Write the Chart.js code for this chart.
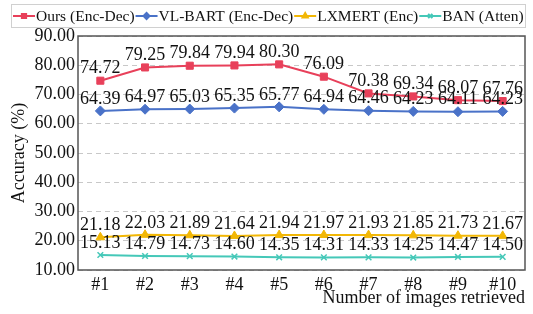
<!DOCTYPE html>
<html>
<head>
<meta charset="utf-8">
<script src="https://cdn.jsdelivr.net/npm/chart.js@4/dist/chart.umd.min.js"></script>
<style>
  html, body { margin: 0; padding: 0; background: #fff; }
  #wrap { width: 533px; height: 314px; position: relative; }
</style>
</head>
<body>
<div id="wrap"><canvas id="accChart"></canvas></div>
<script>
// Dados do gráfico
const categories = ['#1', '#2', '#3', '#4', '#5', '#6', '#7', '#8', '#9', '#10'];
const oursValues = [74.72, 79.25, 79.84, 79.94, 80.30, 76.09, 70.38, 69.34, 68.07, 67.76];
const vlbartValues = [64.39, 64.97, 65.03, 65.35, 65.77, 64.94, 64.46, 64.23, 64.11, 64.23];
const lxmertValues = [21.18, 22.03, 21.89, 21.64, 21.94, 21.97, 21.93, 21.85, 21.73, 21.67];
const banValues = [15.13, 14.79, 14.73, 14.60, 14.35, 14.31, 14.33, 14.25, 14.47, 14.50];
const seriesNames = ['Ours (Enc-Dec)', 'VL-BART (Enc-Dec)', 'LXMERT (Enc)', 'BAN (Atten)'];
const yTicks = [10, 20, 30, 40, 50, 60, 70, 80, 90];

const serif = '"Liberation Serif", "DejaVu Serif", serif';
const colors = ['#e8405a', '#4a72c8', '#f2b705', '#45c8b8'];
const markers = ['rect', 'rectRot', 'triangle', 'crossRot'];

// Rótulos de valor acima dos pontos
const valueLabels = {
    id: 'valueLabels',
    afterDatasetsDraw(chart) {
        const ctx = chart.ctx;
        ctx.save();
        ctx.font = '18px ' + serif;
        ctx.fillStyle = '#111';
        ctx.textAlign = 'center';
        ctx.textBaseline = 'bottom';
        chart.data.datasets.forEach((ds, i) => {
            const meta = chart.getDatasetMeta(i);
            meta.data.forEach((pt, j) => {
                ctx.fillText(ds.data[j].toFixed(2), pt.x, pt.y - 3);
            });
        });
        ctx.restore();
    }
};

// Moldura da área do gráfico e legenda com linha + marcador
const frameAndLegend = {
    id: 'frameAndLegend',
    afterDraw(chart) {
        const ctx = chart.ctx;
        const a = chart.chartArea;
        ctx.save();
        ctx.strokeStyle = '#555';
        ctx.lineWidth = 1.5;
        ctx.strokeRect(a.left, a.top, a.right - a.left, a.bottom - a.top);

        // caixa da legenda
        ctx.strokeStyle = '#d0d0d0';
        ctx.lineWidth = 1;
        ctx.strokeRect(11.5, 4.5, 514, 23);
        ctx.font = '15.5px ' + serif;
        ctx.textBaseline = 'middle';
        ctx.textAlign = 'left';
        let x = 13;
        const y = 16;
        seriesNames.forEach((name, i) => {
            ctx.strokeStyle = colors[i];
            ctx.lineWidth = 2;
            ctx.beginPath();
            ctx.moveTo(x, y);
            ctx.lineTo(x + 22, y);
            ctx.stroke();
            ctx.fillStyle = colors[i];
            ctx.strokeStyle = colors[i];
            Chart.helpers.drawPoint(ctx, {
                pointStyle: markers[i], radius: 3, borderWidth: 1.5
            }, x + 11, y);
            ctx.fillStyle = '#111';
            ctx.fillText(name, x + 23, y + 1);
            x += 23 + ctx.measureText(name).width + 1;
        });
        ctx.restore();
    }
};

function buildDataset(label, data, i) {
    return {
        label: label,
        data: data,
        borderColor: colors[i],
        backgroundColor: colors[i],
        borderWidth: 2,
        pointStyle: markers[i],
        pointRadius: i === 3 ? 4 : 5,
        pointBorderWidth: i === 3 ? 1.5 : 1,
        pointBorderColor: colors[i],
        pointBackgroundColor: colors[i],
        tension: 0
    };
}

document.addEventListener('DOMContentLoaded', function() {
    const ctx = document.getElementById('accChart');
    new Chart(ctx, {
        type: 'line',
        data: {
            labels: categories,
            datasets: [
                buildDataset(seriesNames[0], oursValues, 0),
                buildDataset(seriesNames[1], vlbartValues, 1),
                buildDataset(seriesNames[2], lxmertValues, 2),
                buildDataset(seriesNames[3], banValues, 3)
            ]
        },
        options: {
            responsive: true,
            maintainAspectRatio: false,
            animation: false,
            layout: { padding: { top: 36, right: 8, left: 0, bottom: 0 } },
            plugins: {
                legend: { display: false },
                tooltip: { enabled: false }
            },
            scales: {
                x: {
                    offset: true,
                    grid: { display: false, drawTicks: false },
                    border: { display: false },
                    afterFit: function(axis) { axis.height = 44; },
                    ticks: { color: '#111', font: { family: serif, size: 18 }, padding: 4 },
                    title: {
                        display: true,
                        text: 'Number of images retrieved',
                        align: 'end',
                        color: '#111',
                        font: { family: serif, size: 18 },
                        padding: { top: 0, bottom: 5 }
                    }
                },
                y: {
                    min: 10,
                    max: 90,
                    afterBuildTicks: function(axis) {
                        axis.ticks = yTicks.map(v => ({ value: v }));
                    },
                    afterFit: function(axis) { axis.width = 78; },
                    grid: { color: '#c8c8c8', lineWidth: 1, drawTicks: false },
                    border: { display: false, dash: [5, 4] },
                    ticks: {
                        color: '#111',
                        font: { family: serif, size: 18 },
                        padding: 3,
                        callback: v => Number(v).toFixed(2)
                    },
                    title: {
                        display: true,
                        text: 'Accuracy (%)',
                        color: '#111',
                        font: { family: serif, size: 18 },
                        padding: { top: 8, bottom: 0 }
                    }
                }
            }
        },
        plugins: [valueLabels, frameAndLegend]
    });
});
</script>
</body>
</html>
